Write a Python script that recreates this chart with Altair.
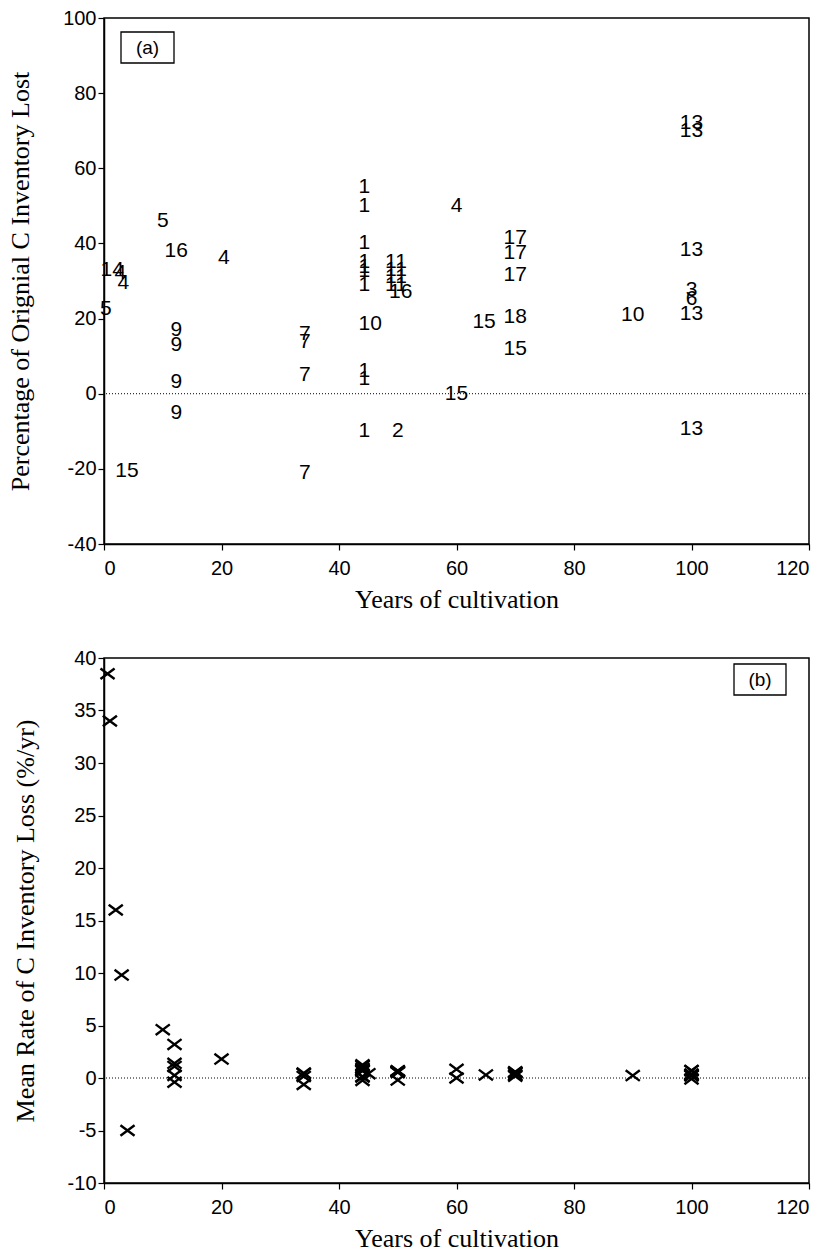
import altair as alt
import pandas as pd

# ---------------- Panel (a): labelled points ----------------
a_label = ["5", "16", "4", "14", "4", "4", "5", "9", "9", "9", "9", "15",
           "7", "7", "7", "7",
           "1", "1", "1", "1", "1", "1", "1", "1", "1", "1",
           "10", "11", "11", "11", "11", "16", "2",
           "4", "15", "15", "17", "17", "17", "18", "15", "10",
           "13", "13", "13", "13", "13", "3", "6"]
a_years = [10, 12.3, 20.4, 1.4, 2.8, 3.3, 0.3, 12.3, 12.3, 12.3, 12.3, 3.9,
           34.2, 34.2, 34.2, 34.2,
           44.3, 44.3, 44.3, 44.3, 44.3, 44.3, 44.3, 44.3, 44.3, 44.3,
           45.3, 49.7, 49.7, 49.7, 49.7, 50.5, 50,
           60, 60, 64.7, 70, 70, 70, 70, 70, 90,
           100, 100, 100, 100, 100, 100, 100]
a_loss = [46, 38, 36, 33, 32, 29.5, 22.5, 17, 13, 3, -5, -20.5,
          16, 13.8, 5, -21,
          55, 50, 40, 35, 33.8, 32.7, 29, 6, 4, -10,
          18.5, 35, 33, 31, 29, 27, -9.8,
          50, 0, 19, 41.5, 37.5, 31.7, 20.3, 12, 21,
          72, 70, 38.3, 21.3, -9.3, 27.5, 25.3]

# ---------------- Panel (b): mean rate of loss ----------------
b_years = [0.6, 1, 2, 3, 4, 10, 12, 12, 12, 12, 12, 20,
           34, 34, 34, 34,
           44, 44, 44, 44, 44, 44, 44, 44, 44, 44, 45,
           50, 50, 50, 50, 50, 50,
           60, 60, 65, 70, 70, 70, 70, 70, 90,
           100, 100, 100, 100, 100, 100, 100]
b_rate = [38.5, 34, 16, 9.8, -5, 4.6, 3.2, 1.4, 1.1, 0.25, -0.4, 1.8,
          0.47, 0.41, 0.15, -0.62,
          1.25, 1.14, 0.91, 0.8, 0.77, 0.74, 0.66, 0.14, 0.09, -0.23, 0.41,
          0.7, 0.66, 0.62, 0.58, 0.53, -0.2,
          0.83, 0.0, 0.29, 0.59, 0.54, 0.46, 0.29, 0.17, 0.23,
          0.72, 0.70, 0.38, 0.275, 0.25, 0.21, -0.09]

x_ticks = [0, 20, 40, 60, 80, 100, 120]
a_ticks = [-40, -20, 0, 20, 40, 60, 80, 100]
b_ticks = [-10, -5, 0, 5, 10, 15, 20, 25, 30, 35, 40]

df_a = pd.DataFrame({"label": a_label, "years": a_years, "loss": a_loss})
df_b = pd.DataFrame({"years": b_years, "rate": b_rate})
zero = pd.DataFrame({"v": [0]})
one = pd.DataFrame({"k": [0]})

W, H = 705, 526
LABEL_FONT = "Liberation Sans"
TITLE_FONT = "Liberation Serif"
PLAIN = "toString(datum.value)"

x_enc = alt.X("years:Q",
              scale=alt.Scale(domain=[0, 120], nice=False, zero=False),
              axis=alt.Axis(values=x_ticks, title="Years of cultivation", labelExpr=PLAIN))

# Panel a
text_a = alt.Chart(df_a).mark_text(
    font=LABEL_FONT, fontSize=21, color="black", align="center", baseline="middle"
).encode(
    x=x_enc,
    y=alt.Y("loss:Q", scale=alt.Scale(domain=[-40, 100], nice=False),
            axis=alt.Axis(values=a_ticks, title="Percentage of Orignial C Inventory Lost",
                          labelExpr=PLAIN)),
    text="label:N",
)
rule_a = alt.Chart(zero).mark_rule(color="black", strokeWidth=1, strokeDash=[1, 2]).encode(
    y=alt.Y("v:Q", scale=alt.Scale(domain=[-40, 100], nice=False)))
box_a = alt.Chart(one).mark_rect(fill="white", stroke="black", strokeWidth=1.3).encode(
    x=alt.value(17), x2=alt.value(70), y=alt.value(14), y2=alt.value(45))
boxtext_a = alt.Chart(one).mark_text(font=LABEL_FONT, fontSize=19, color="black",
                                     align="center", baseline="middle").encode(
    x=alt.value(43.5), y=alt.value(30), text=alt.value("(a)"))
panel_a = alt.layer(rule_a, text_a, box_a, boxtext_a).properties(width=W, height=H)

# Panel b
xshape = "M -1 -0.75 L 1 0.75 M -1 0.75 L 1 -0.75"
pts_b = alt.Chart(df_b).mark_point(
    shape=xshape, size=200, color="black", strokeWidth=2.4, filled=False, opacity=1
).encode(
    x=x_enc,
    y=alt.Y("rate:Q", scale=alt.Scale(domain=[-10, 40], nice=False),
            axis=alt.Axis(values=b_ticks, title="Mean Rate of C Inventory Loss (%/yr)",
                          labelExpr=PLAIN)),
)
rule_b = alt.Chart(zero).mark_rule(color="black", strokeWidth=1, strokeDash=[1, 2]).encode(
    y=alt.Y("v:Q", scale=alt.Scale(domain=[-10, 40], nice=False)))
box_b = alt.Chart(one).mark_rect(fill="white", stroke="black", strokeWidth=1.3).encode(
    x=alt.value(630), x2=alt.value(682), y=alt.value(6), y2=alt.value(37))
boxtext_b = alt.Chart(one).mark_text(font=LABEL_FONT, fontSize=19, color="black",
                                     align="center", baseline="middle").encode(
    x=alt.value(656), y=alt.value(21.5), text=alt.value("(b)"))
panel_b = alt.layer(rule_b, pts_b, box_b, boxtext_b).properties(width=W, height=525)

chart = alt.vconcat(panel_a, panel_b, spacing=34).properties(
    padding={"left": 6, "top": 7, "right": 20, "bottom": 5},
    background="white",
).configure_view(
    stroke="black", strokeWidth=1.5
).configure_axis(
    grid=False,
    domainColor="black", domainWidth=1.5,
    tickColor="black", tickSize=6, tickWidth=1.2,
    labelFont=LABEL_FONT, labelFontSize=20, labelColor="black", labelPadding=2,
    titleFont=TITLE_FONT, titleFontSize=26, titleFontWeight="normal", titleColor="black",
).configure_axisY(titlePadding=29).configure_axisX(titlePadding=8, labelPadding=8)

chart.save("out.html", embed_options={"renderer": "svg", "actions": False})
